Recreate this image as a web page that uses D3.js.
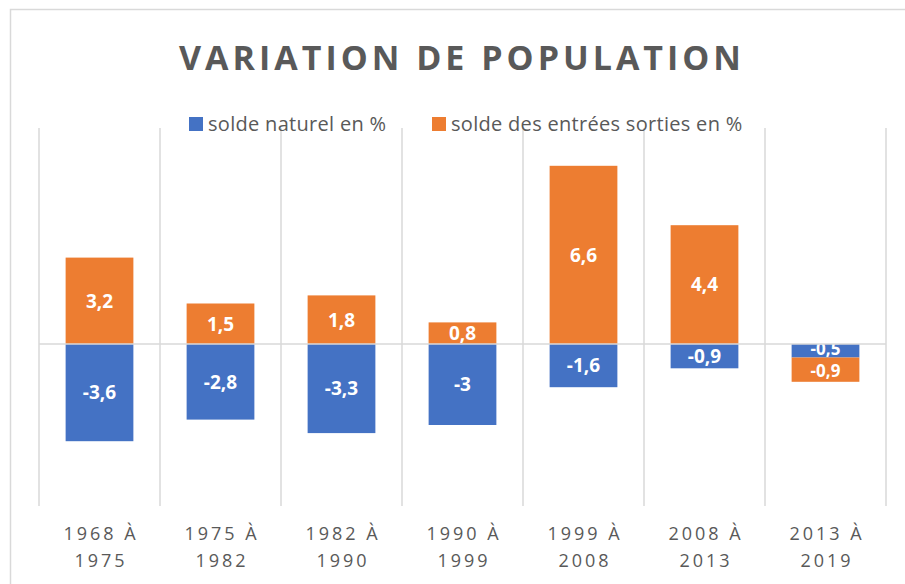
<!DOCTYPE html>
<html>
<head>
<meta charset="utf-8">
<script src="https://cdn.jsdelivr.net/npm/d3@7"></script>
<style>
  html, body { margin: 0; padding: 0; background: #fff; }
  text { font-family: "Open Sans", "Noto Sans", sans-serif; }
</style>
</head>
<body>
<div id="chart"></div>
<script>
// periods (two lines each)
var periods = ["1968 À|1975", "1975 À|1982", "1982 À|1990", "1990 À|1999", "1999 À|2008", "2008 À|2013", "2013 À|2019"];
var series_names = ["solde naturel en %", "solde des entrées sorties en %"];
var solde_naturel = [-3.6, -2.8, -3.3, -3, -1.6, -0.9, -0.5];
var solde_migratoire = [3.2, 1.5, 1.8, 0.8, 6.6, 4.4, -0.9];
var y_domain = [-6, 8];

var colors = ["#4472C4", "#ED7D31"];

//Build rows for the stack
var rows = periods.map(function(p, i) {
    return { period: p, s0: solde_naturel[i], s1: solde_migratoire[i] };
});

var W = 905, H = 584;
var plot = { left: 39, right: 886, top: 128, bottom: 506 };

var svg = d3.select("#chart").append("svg")
    .attr("width", W)
    .attr("height", H);

//Outer frame (cropped on right / bottom)
svg.append("rect")
    .attr("x", 10.5).attr("y", 9.5)
    .attr("width", 1000).attr("height", 1000)
    .attr("fill", "none")
    .attr("stroke", "#d9d9d9")
    .attr("stroke-width", 1.5);

var x = d3.scaleBand()
    .domain(periods)
    .range([plot.left, plot.right])
    .paddingInner(0.44)
    .paddingOuter(0.22);

var y = d3.scaleLinear()
    .domain(y_domain)
    .range([plot.bottom, plot.top]);

//Vertical category gridlines
var step = x.step();
var bounds = d3.range(periods.length + 1).map(function(i) { return plot.left + i * step; });
svg.append("g").selectAll("line")
    .data(bounds)
    .enter().append("line")
    .attr("x1", function(d) { return d; })
    .attr("x2", function(d) { return d; })
    .attr("y1", plot.top)
    .attr("y2", plot.bottom)
    .attr("stroke", "#d9d9d9")
    .attr("stroke-width", 1.5);

var stack = d3.stack()
    .keys(["s0", "s1"])
    .offset(d3.stackOffsetDiverging);
var stacked = stack(rows);

var layer = svg.selectAll(".layer")
    .data(stacked)
    .enter().append("g")
    .attr("class", "layer")
    .attr("fill", function(d, i) { return colors[i]; });

layer.selectAll("rect")
    .data(function(d) { return d; })
    .enter().append("rect")
    .attr("x", function(d) { return x(d.data.period); })
    .attr("width", x.bandwidth())
    .attr("y", function(d) { return y(Math.max(d[0], d[1])); })
    .attr("height", function(d) { return Math.abs(y(d[0]) - y(d[1])); });

//Zero line
svg.append("line")
    .attr("x1", plot.left).attr("x2", plot.right)
    .attr("y1", y(0)).attr("y2", y(0))
    .attr("stroke", "#d9d9d9")
    .attr("stroke-width", 1.5);

//Data labels - value comes straight from the source arrays
//When both segments sit on the same side, labels get a bit smaller so they don't collide
var fmt = function(v) { return String(v).replace(".", ","); };
var is_crowded = function(d) { return d.seg.data.s0 < 0 && d.seg.data.s1 < 0; };
layer.selectAll("text")
    .data(function(d, li) { var key = d.key; return d.map(function(s) { return { seg: s, v: s.data[key], layer: li }; }); })
    .enter().append("text")
    .attr("x", function(d) { return x(d.seg.data.period) + x.bandwidth() / 2; })
    .attr("y", function(d) {
        var mid = (y(d.seg[0]) + y(d.seg[1])) / 2;
        if (is_crowded(d)) { mid += d.layer === 0 ? -1.5 : 1.5; }
        return mid;
    })
    .attr("dy", "0.36em")
    .attr("text-anchor", "middle")
    .attr("fill", "#fff")
    .style("font-size", function(d) { return is_crowded(d) ? "17px" : "19px"; })
    .style("font-weight", "bold")
    .text(function(d) { return fmt(d.v); });

//Category labels
var xl = svg.append("g").selectAll("text")
    .data(periods)
    .enter().append("text")
    .attr("text-anchor", "middle")
    .attr("fill", "#595959")
    .style("font-size", "18px")
    .style("letter-spacing", "3px");
xl.append("tspan")
    .attr("x", function(d) { return x(d) + x.bandwidth() / 2 + 1.5; })
    .attr("y", 540)
    .text(function(d) { return d.split("|")[0]; });
xl.append("tspan")
    .attr("x", function(d) { return x(d) + x.bandwidth() / 2 + 1.5; })
    .attr("y", 567)
    .text(function(d) { return d.split("|")[1]; });

//Title
svg.append("text")
    .attr("x", 462)
    .attr("y", 70)
    .attr("text-anchor", "middle")
    .attr("fill", "#595959")
    .style("font-size", "34px")
    .style("font-weight", "bold")
    .style("letter-spacing", "4px")
    .text("VARIATION DE POPULATION");

//Legend
var legend_x = [189, 432];
var legend = svg.selectAll(".legend")
    .data(series_names)
    .enter().append("g")
    .attr("class", "legend")
    .attr("transform", function(d, i) { return "translate(" + legend_x[i] + ",117)"; });
legend.append("rect")
    .attr("width", 14).attr("height", 14)
    .attr("fill", function(d, i) { return colors[i]; });
legend.append("text")
    .attr("x", 19)
    .attr("y", 14)
    .attr("fill", "#595959")
    .style("font-size", "20px")
    .style("letter-spacing", "0.3px")
    .text(function(d) { return d; });
</script>
</body>
</html>
